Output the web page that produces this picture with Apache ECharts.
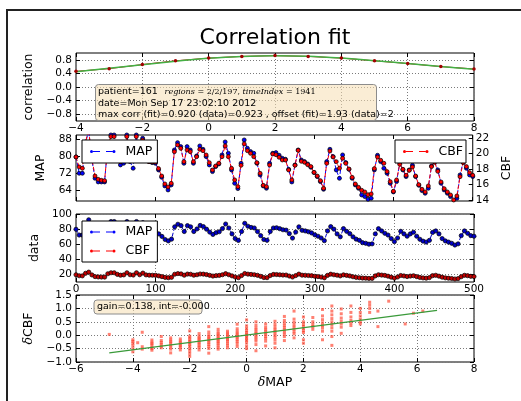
<!DOCTYPE html>
<html lang="en">
<head>
<meta charset="UTF-8">
<title>Correlation fit</title>
<script src="https://cdn.jsdelivr.net/npm/echarts@6/dist/echarts.min.js"></script>
<style>
  html, body { margin: 0; padding: 0; background: #fff; }
  #chart { width: 521px; height: 401px; }
</style>
</head>
<body>
<div id="chart"></div>
<script>
// correlation vs. lag (top panel)
var lagValues = [-4, -3, -2, -1, 0, 1, 2, 3, 4, 5, 6, 7, 8];
var corrData = [0.46, 0.54, 0.66, 0.77, 0.85, 0.90, 0.923, 0.90, 0.85, 0.77, 0.69, 0.60, 0.53];
var corrFit = [0.45, 0.55, 0.655, 0.76, 0.845, 0.90, 0.92, 0.905, 0.85, 0.775, 0.69, 0.60, 0.52];

// time series, one sample every 4 steps of timeIndex
var sampleStep = 4;
var mapValues = [
  79.76, 72.14, 72.14, 86.13, 92.35, 78.36, 69.80, 68.09, 68.09, 68.09,
  85.36, 90.02, 90.02, 79.91, 76.03, 76.80, 90.02, 77.58, 74.47, 90.02,
  78.36, 88.47, 78.36, 77.58, 77.11, 76.80, 73.69, 70.27, 66.23, 64.36,
  66.69, 83.02, 86.44, 84.58, 76.80, 84.58, 83.02, 76.80, 80.22, 84.89,
  83.33, 79.91, 76.03, 72.91, 75.25, 76.49, 80.69, 86.76, 81.47, 73.69,
  67.47, 64.98, 76.80, 87.69, 83.80, 82.25, 81.47, 76.80, 71.36, 66.23,
  65.14, 76.80, 81.47, 81.78, 80.53, 79.14, 78.67, 74.00, 68.09, 76.03,
  83.02, 78.36, 77.58, 76.49, 74.94, 72.45, 70.58, 68.25, 64.67, 77.58,
  83.33, 79.91, 73.69, 69.80, 80.69, 77.11, 74.00, 69.80, 66.69, 65.14,
  62.03, 61.25, 60.01, 60.47, 73.69, 80.53, 77.58, 74.47, 72.14, 67.47,
  63.43, 68.25, 77.11, 73.69, 70.58, 73.69, 75.87, 70.58, 66.54, 64.05,
  62.81, 65.14, 75.56, 77.58, 73.69, 67.47, 64.36, 62.81, 61.25, 58.92,
  60.47, 71.36, 77.58, 74.47, 71.36, 70.58
];
var cbfValues = [
  19.58, 18.28, 18.11, 21.52, 23.08, 19.36, 17.11, 16.68, 16.55, 16.51,
  20.92, 22.22, 22.22, 20.05, 18.97, 19.41, 22.22, 19.62, 19.19, 22.22,
  19.62, 21.78, 19.41, 18.97, 18.93, 18.89, 18.07, 17.11, 16.08, 15.69,
  16.16, 20.27, 21.14, 20.70, 18.97, 20.49, 20.27, 18.97, 19.62, 20.57,
  20.40, 19.84, 18.84, 17.89, 18.41, 18.76, 19.62, 21.01, 19.62, 18.11,
  16.60, 15.73, 18.50, 21.27, 20.40, 20.05, 19.62, 18.84, 17.46, 15.90,
  15.73, 18.54, 19.97, 19.88, 19.54, 19.19, 19.19, 17.89, 16.60, 18.50,
  20.44, 19.02, 18.89, 18.58, 18.33, 17.59, 17.11, 16.51, 15.51, 18.76,
  20.36, 19.58, 18.97, 18.11, 19.41, 18.76, 18.02, 16.94, 16.08, 15.64,
  15.26, 15.04, 14.69, 14.78, 18.07, 19.58, 19.15, 18.76, 17.68, 16.38,
  15.13, 16.60, 18.63, 17.98, 17.20, 17.85, 18.28, 17.11, 15.99, 15.39,
  15.04, 15.82, 18.33, 18.89, 17.72, 16.34, 15.47, 15.04, 14.65, 14.00,
  14.52, 17.03, 18.84, 18.33, 17.55, 17.20
];

// dMAP / dCBF scatter, grouped by the dMAP column
var scatterColumns = [
  [-4.83, [0.03]],
  [-4.0, [-0.17, -0.23, -0.3, -0.39, -0.5, -0.62]],
  [-3.83, [-0.28]],
  [-3.67, [0.11, -0.43, -0.52]],
  [-3.33, [-0.18, -0.26, -0.31, -0.37, -0.45, -0.5, -0.56]],
  [-3.0, [-0.05, -0.2, -0.27, -0.34, -0.41, -0.47]],
  [-2.67, [-0.1, -0.18, -0.24, -0.3, -0.37, -0.44, -0.52, -0.66]],
  [-2.33, [-0.14, -0.22, -0.28, -0.34, -0.4, -0.46, -0.55]],
  [-2.0, [0.16, -0.04, -0.1, -0.17, -0.23, -0.29, -0.35, -0.42, -0.5, -0.58, -0.68, -0.79]],
  [-1.67, [0.06, -0.04, -0.1, -0.15, -0.21, -0.27, -0.33, -0.4, -0.46, -0.55]],
  [-1.33, [0.32, 0.12, 0.02, -0.05, -0.1, -0.16, -0.22, -0.28, -0.35, -0.42, -0.5, -0.67]],
  [-1.0, [0.22, 0.12, 0.05, 0.0, -0.06, -0.12, -0.18, -0.24, -0.3, -0.37, -0.45, -0.52]],
  [-0.67, [0.15, 0.08, 0.02, -0.04, -0.1, -0.16, -0.22, -0.3, -0.38, -0.47]],
  [-0.33, [0.41, 0.24, 0.15, 0.08, 0.02, -0.04, -0.1, -0.17, -0.24, -0.32, -0.42]],
  [0.0, [0.57, 0.35, 0.25, 0.17, 0.1, 0.04, -0.02, -0.08, -0.14, -0.2, -0.28, -0.4, -0.5]],
  [0.33, [0.5, 0.37, 0.27, 0.2, 0.12, 0.06, 0.0, -0.07, -0.14, -0.22, -0.35, -0.58]],
  [0.67, [0.42, 0.3, 0.22, 0.15, 0.08, 0.02, -0.05, -0.12, -0.22, -0.4]],
  [1.0, [0.52, 0.4, 0.3, 0.22, 0.15, 0.08, 0.0, -0.08, -0.18, -0.3, -0.47]],
  [1.33, [0.7, 0.55, 0.45, 0.36, 0.28, 0.2, 0.12, 0.04, -0.05, -0.2]],
  [1.67, [0.9, 0.6, 0.48, 0.38, 0.3, 0.22, 0.13, 0.05, -0.1]],
  [2.0, [0.68, 0.5, 0.4, 0.32, 0.25, 0.17, 0.1, -0.17, -0.3]],
  [2.33, [0.66, 0.5, 0.4, 0.32, 0.22]],
  [2.67, [0.96, 0.72, 0.58, 0.46, 0.36, 0.27, 0.15, -0.17]],
  [3.0, [1.09, 0.9, 0.76, 0.62, 0.5, 0.4, 0.28, 0.15, -0.05, -0.38]],
  [3.33, [0.98, 0.8, 0.64, 0.52, 0.42, 0.3, 0.07]],
  [3.67, [1.09, 0.85, 0.68, 0.55, 0.46, 0.36]],
  [4.0, [1.0, 0.85, 0.72, 0.6, 0.5, 0.42]],
  [4.33, [1.23, 1.12, 1.0, 0.85]],
  [4.62, [0.9, 0.32]],
  [5.0, [1.27]],
  [5.58, [0.42]],
  [5.87, [0.82]],
  [6.2, [0.9]]
];
var gainLineX = [-4.83, 6.7];
var gainLineY = [-0.66, 0.93];

// tick positions that do not start at the axis minimum
var corrTicks = [-0.8, -0.4, 0, 0.4, 0.8];
var mapTicks = [64, 72, 80, 88];
var cbfTicks = [14, 16, 18, 20, 22];
var dataTicks = [20, 40, 60, 80, 100];

var FONT = 'DejaVu Sans';
var MINUS = '\u2212';
// matplotlib style legend sample: marker - - marker
var LEG_ICON = 'path://M0,2.5a1.5,1.5 0 1 0 3,0a1.5,1.5 0 1 0 -3,0z M3,2 L10,2 L10,3 L3,3z M16,2 L22.5,2 L22.5,3 L16,3z M22.5,2.5a1.5,1.5 0 1 0 3,0a1.5,1.5 0 1 0 -3,0z';

function fmt(digits) {
    return function (v) { return Number(v).toFixed(digits).replace('-', MINUS); };
}
function pairs(xs, ys) {
    var out = [];
    for (var i = 0; i < ys.length; i++) out.push([xs[i], ys[i]]);
    return out;
}
var timeIndex = mapValues.map(function (v, i) { return i * sampleStep; });
var scatterPts = [];
scatterColumns.forEach(function (col) {
    col[1].forEach(function (y) { scatterPts.push([col[0], y]); });
});

function makeAxis(gridIndex, position, min, max, o) {
    o = o || {};
    var ax = {
        type: 'value', gridIndex: gridIndex, position: position, min: min, max: max,
        axisLine: { show: false, onZero: false },
        axisTick: { show: true, inside: true, length: 4, lineStyle: { color: '#000', width: 1 } },
        axisLabel: {
            show: !!o.labels, margin: o.margin || 3, color: '#000',
            fontFamily: FONT, fontSize: 10.5, formatter: o.formatter
        },
        splitLine: o.grid ? { show: true, lineStyle: { color: '#7a7a7a', type: [1, 2], width: 1 } } : { show: false }
    };
    if (o.interval) ax.interval = o.interval;
    if (o.ticks) {
        ax.axisTick.customValues = o.ticks;
        ax.axisLabel.customValues = o.ticks;
    }
    if (o.name) {
        ax.name = o.name;
        ax.nameLocation = 'middle';
        ax.nameGap = o.nameGap;
        ax.nameTextStyle = {
            fontFamily: FONT, fontSize: 12.5, color: '#000',
            rich: { d: { fontFamily: 'DejaVu Serif', fontStyle: 'italic', fontSize: 12.5, color: '#000' } }
        };
    }
    return ax;
}

function tsSeries(name, xi, yi, values, color, size) {
    return {
        name: name, type: 'line', xAxisIndex: xi, yAxisIndex: yi,
        data: pairs(timeIndex, values),
        symbol: 'circle', symbolSize: size, showSymbol: true,
        itemStyle: { color: color, borderColor: '#000', borderWidth: 0.7 },
        lineStyle: { color: color, width: 1, type: 'dashed' },
        emphasis: { disabled: true }
    };
}

var legendBase = {
    icon: LEG_ICON, itemWidth: 25.5, itemHeight: 3, orient: 'vertical',
    backgroundColor: '#fff', borderColor: '#000', borderWidth: 1, borderRadius: 0,
    selectedMode: false, itemStyle: { borderWidth: 0 },
    textStyle: { fontFamily: FONT, fontSize: 12.5, lineHeight: 15, color: '#000', padding: [0, 0, 0, 5] }
};
function legendAt(names, left, top, padding, gap) {
    return Object.assign({}, legendBase, { data: names, left: left, top: top, padding: padding, itemGap: gap });
}

var chart = echarts.init(document.getElementById('chart'));
var option = {
    animation: false,
    backgroundColor: '#fff',
    title: {
        text: 'Correlation fit', left: 275, top: 27, textAlign: 'center', padding: 0,
        textStyle: { fontFamily: FONT, fontSize: 22, fontWeight: 'normal', color: '#000' }
    },
    grid: [
        { left: 76, top: 53, width: 398, height: 68 },
        { left: 76, top: 135, width: 398, height: 66 },
        { left: 76, top: 214, width: 398, height: 68 },
        { left: 76, top: 295, width: 398, height: 67 }
    ].map(function (g) {
        return Object.assign(g, { show: true, borderColor: '#000', borderWidth: 1, backgroundColor: 'transparent' });
    }),
    xAxis: [
        makeAxis(0, 'bottom', -4, 8, { interval: 2, labels: true, grid: true, margin: 2, formatter: fmt(0) }),
        makeAxis(0, 'top', -4, 8, { interval: 2 }),
        makeAxis(1, 'bottom', 0, 500, { interval: 100 }),
        makeAxis(1, 'top', 0, 500, { interval: 100 }),
        makeAxis(2, 'bottom', 0, 500, { interval: 100, labels: true, grid: true, margin: 2 }),
        makeAxis(2, 'top', 0, 500, { interval: 100 }),
        makeAxis(3, 'bottom', -6, 8, { interval: 2, labels: true, grid: true, margin: 2, formatter: fmt(0),
            name: '{d|\u03b4}MAP', nameGap: 14 }),
        makeAxis(3, 'top', -6, 8, { interval: 2 })
    ],
    yAxis: [
        makeAxis(0, 'left', -1, 1, { ticks: corrTicks, labels: true, grid: true, margin: 4, formatter: fmt(1),
            name: 'correlation', nameGap: 30 }),
        makeAxis(0, 'right', -1, 1, { ticks: corrTicks }),
        makeAxis(1, 'left', 59.2, 90, { ticks: mapTicks, labels: true, margin: 4, formatter: fmt(0),
            name: 'MAP', nameGap: 20 }),
        makeAxis(1, 'right', 13.87, 22.43, { ticks: cbfTicks, labels: true, margin: 3, formatter: fmt(0),
            name: 'CBF', nameGap: 17 }),
        makeAxis(2, 'left', 10, 100, { ticks: dataTicks, labels: true, grid: true, margin: 4, formatter: fmt(0),
            name: 'data', nameGap: 26 }),
        makeAxis(2, 'right', 10, 100, { ticks: dataTicks }),
        makeAxis(3, 'left', -1, 1.5, { interval: 0.5, labels: true, grid: true, margin: 4, formatter: fmt(1),
            name: '{d|\u03b4}CBF', nameGap: 31 }),
        makeAxis(3, 'right', -1, 1.5, { interval: 0.5 })
    ],
    legend: [
        legendAt(['MAP'], 82, 140, [4, 5, 4, 8], 4),
        legendAt(['CBF'], 395, 140, [4, 3, 4, 8], 4),
        legendAt(['MAP', 'CBF'], 82, 221, [3.5, 5, 3.5, 8], 4)
    ],
    graphic: [
        {   // figure frame
            type: 'rect', shape: { x: 7, y: 10, width: 600, height: 500 },
            style: { fill: 'none', stroke: '#222', lineWidth: 2 }, z: 0, silent: true
        },
        {
            type: 'rect', shape: { x: 95.5, y: 84.5, width: 281, height: 36, r: 3 },
            style: { fill: 'rgba(245,222,179,0.55)', stroke: '#8c8c8c', lineWidth: 1 }, z: 10
        },
        {
            type: 'text', x: 98, y: 85.5, z: 11,
            style: {
                text: '{a|patient=161}  {m|regions}{n| = 2/2/197, }{m|timeIndex}{n| = 1941}\n' +
                      '{a|date=Mon Sep 17 23:02:10 2012}\n' +
                      '{a|max corr (fit)=0.920 (data)=0.923 , offset (fit)=1.93 (data)=2}',
                rich: {
                    a: { fontFamily: FONT, fontSize: 9.5, lineHeight: 11.5, fill: '#000' },
                    m: { fontFamily: 'DejaVu Serif', fontStyle: 'italic', fontSize: 8, lineHeight: 11.5, fill: '#000' },
                    n: { fontFamily: 'DejaVu Serif', fontSize: 8, lineHeight: 11.5, fill: '#000' }
                }
            }
        },
        {
            type: 'rect', shape: { x: 94, y: 300, width: 108, height: 14, r: 3 },
            style: { fill: 'rgba(245,222,179,0.55)', stroke: '#8c8c8c', lineWidth: 1 }, z: 10
        },
        {
            type: 'text', x: 97, y: 307, z: 11,
            style: { text: 'gain=0.138, int=-0.000', fontFamily: FONT, fontSize: 9.5, fill: '#000', verticalAlign: 'middle' }
        }
    ],
    series: [
        {
            name: 'corr', type: 'line', xAxisIndex: 0, yAxisIndex: 0,
            data: pairs(lagValues, corrData),
            symbol: 'circle', symbolSize: 3.5, showSymbol: true,
            itemStyle: { color: '#a00000' }, lineStyle: { color: '#c00000', width: 1 },
            emphasis: { disabled: true }
        },
        {
            name: 'corr fit', type: 'line', xAxisIndex: 0, yAxisIndex: 0,
            data: pairs(lagValues, corrFit), smooth: 0.3, showSymbol: false,
            lineStyle: { color: '#44b044', width: 1.5 }, emphasis: { disabled: true }
        },
        tsSeries('MAP', 2, 2, mapValues, '#0000ff', 4),
        tsSeries('CBF', 2, 3, cbfValues, '#ff0000', 4),
        tsSeries('MAP', 4, 4, mapValues, '#0000c8', 4.2),
        tsSeries('CBF', 4, 4, cbfValues, '#c00000', 4.2),
        {
            name: 'dCBF', type: 'scatter', xAxisIndex: 6, yAxisIndex: 6,
            data: scatterPts, symbol: 'rect', symbolSize: 3,
            itemStyle: { color: 'rgba(255,70,50,0.85)' }, emphasis: { disabled: true }
        },
        {
            name: 'gain fit', type: 'line', xAxisIndex: 6, yAxisIndex: 6,
            data: pairs(gainLineX, gainLineY), showSymbol: false,
            lineStyle: { color: '#3a9a3a', width: 1.3 }, emphasis: { disabled: true }
        }
    ]
};
chart.setOption(option);
</script>
</body>
</html>
